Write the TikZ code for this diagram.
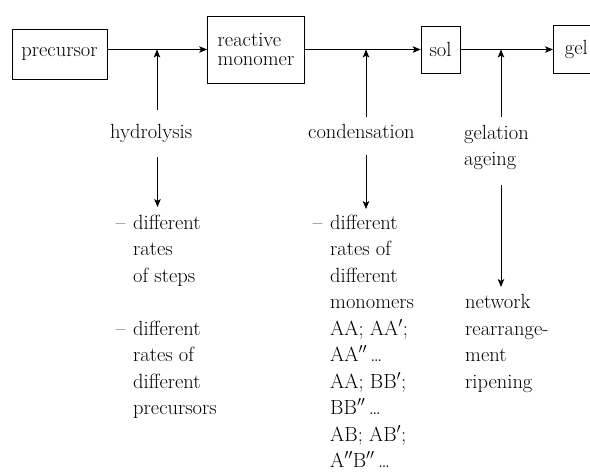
\documentclass[tikz,border=0pt]{standalone}
\usepackage{fontspec}
\usetikzlibrary{arrows.meta}
\newcommand\myfs{\fontsize{20.5}{26.5}\selectfont}
\newcommand\mydash{\llap{–\hspace{8pt}}}
\begin{document}
\begin{tikzpicture}[x=1pt,y=-1pt,
  box/.style={draw,line width=0.75pt,inner sep=0pt,font=\myfs},
  txt/.style={inner sep=0pt,anchor=base west,font=\myfs},
  arr/.style={line width=0.75pt,-{Stealth[length=8pt,width=6.5pt,inset=2pt]}}]
\useasboundingbox (0,0) rectangle (590,472);
% boxes
\node[box,minimum width=95pt,minimum height=50pt] (pre) at (59.5,54) {precursor};
\node[box,minimum width=97pt,minimum height=67pt,align=left,
      font={\fontsize{20.5}{19.3}\selectfont}] (mon) at (256,49.5) {reactive\\monomer};
\node[box,minimum width=39pt,minimum height=47pt] (sol) at (440.5,49.5) {sol};
\node[box,minimum width=46pt,minimum height=48pt,anchor=west] (gel) at (553,49.5) {gel\hspace{6pt}};
% main arrows
\draw[arr] (pre.east |- mon.west) -- (mon.west);
\draw[arr] (mon.east) -- (sol.west);
\draw[arr] (sol.east) -- (gel.west);
% labels
\node[txt] (hyd) at (110,138) {hydrolysis};
\node[txt] (con) at (308,138) {condensation};
\node[txt] (gela) at (464,139) {gelation};
\node[txt] (age) at (464,165) {ageing};
% junction coordinates
\coordinate (j1) at (157,49.5);
\coordinate (j2) at (366,49.5);
\coordinate (j3) at (501,49.5);
\coordinate (hyU) at (157,110);
\coordinate (coU) at (366,117);
\coordinate (geU) at (501,117);
\coordinate (hyD) at (157.5,157);
\coordinate (hyT) at (157.5,207);
\coordinate (coD) at (366,155);
\coordinate (coT) at (366,209);
\coordinate (geD) at (501,185);
\coordinate (geT) at (501,287);
\draw[arr] (hyU) -- (j1);
\draw[arr] (coU) -- (j2);
\draw[arr] (geU) -- (j3);
\draw[arr] (hyD) -- (hyT);
\draw[arr] (coD) -- (coT);
\draw[arr] (geD) -- (geT);
% hydrolysis lists
\node[txt] (h1) at (133,229) {\mydash different};
\node[txt] (h2) at (133,255.5) {rates};
\node[txt] (h3) at (133,282) {of steps};
\node[txt] (h4) at (133,335) {\mydash different};
\node[txt] (h5) at (133,361.5) {rates of};
\node[txt] (h6) at (133,388) {different};
\node[txt] (h7) at (133,414.5) {precursors};
% condensation list
\node[txt] (c1) at (330,229) {\mydash different};
\node[txt] (c2) at (330,255.5) {rates of};
\node[txt] (c3) at (330,282) {different};
\node[txt] (c4) at (330,308.5) {monomers};
\node[txt] (c5) at (330,335) {AA; AA$'$;};
\node[txt] (c6) at (330,361.5) {AA$''$\,\dots};
\node[txt] (c7) at (330,388) {AA; BB$'$;};
\node[txt] (c8) at (330,414.5) {BB$''$\,\dots};
\node[txt] (c9) at (330,441) {AB; AB$'$;};
\node[txt] (c10) at (330,467.5) {A$''$B$''$\,\dots};
% gelation list
\node[txt] (g1) at (465,308.5) {network};
\node[txt] (g2) at (465,335) {rearrange-};
\node[txt] (g3) at (465,361.5) {ment};
\node[txt] (g4) at (465,388) {ripening};
\end{tikzpicture}
\end{document}
